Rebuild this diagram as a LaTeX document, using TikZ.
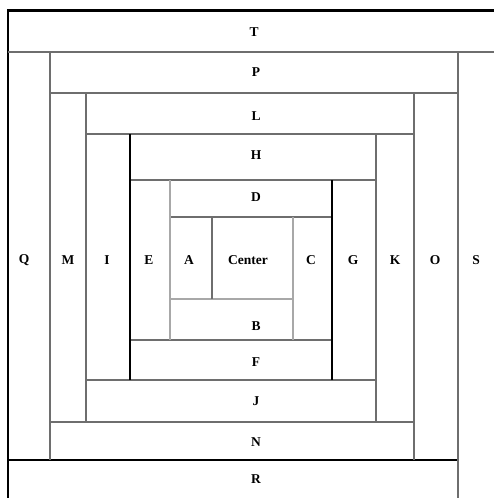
\documentclass[tikz,border=0pt]{standalone}
\usepackage{fontspec}
\setmainfont{Liberation Serif}
\definecolor{rulegray}{HTML}{6E6E6E}
\definecolor{softgray}{HTML}{A8A8A8}
\usetikzlibrary{positioning}

\begin{document}
\begin{tikzpicture}[x=1pt,y=-1pt,
    rule/.style={draw=rulegray,line width=1.3pt},
    softrule/.style={draw=softgray,line width=1.2pt},
    darkrule/.style={draw=black,line width=1.6pt},
    block/.style={font=\fontsize{13.5}{15}\selectfont\bfseries,inner sep=0pt}]
  \useasboundingbox (0,0) rectangle (494,498);
  % outer frame, only top and left
  \draw[black,line width=2.8pt] (494,10.5) -- (8,10.5) -- (8,498);
  % horizontal strips
  \draw[rule] (8,52) -- (494,52);
  \draw[rule] (50,93) -- (458,93);
  \draw[rule] (86,134) -- (414,134);
  \draw[rule] (130,180) -- (376,180);
  \draw[rule] (170,217) -- (332,217);
  \draw[softrule] (170,299) -- (293,299);
  \draw[rule] (130,340) -- (332,340);
  \draw[rule] (86,380) -- (376,380);
  \draw[rule] (50,422) -- (414,422);
  \draw[darkrule] (8,460) -- (458,460);
  % vertical strips
  \draw[rule] (50,52) -- (50,460);
  \draw[rule] (86,93) -- (86,422);
  \draw[darkrule,line width=1.1pt] (130,134) -- (130,380);
  \draw[softrule] (170,180) -- (170,340);
  \draw[rule] (212,217) -- (212,299);
  \draw[softrule] (293,217) -- (293,340);
  \draw[darkrule] (332,180) -- (332,380);
  \draw[rule] (376,134) -- (376,422);
  \draw[rule] (414,93) -- (414,460);
  \draw[rule] (458,52) -- (458,498);
  % row labels
  \node[block] (t) at (254,32) {T};
  \node[block] (p) at (256,72) {P};
  \node[block] (l) at (256,116) {L};
  \node[block] (h) at (256,155) {H};
  \node[block] (d) at (256,197) {D};
  \node[block] (b) at (256,326) {B};
  \node[block] (f) at (256,362) {F};
  \node[block] (j) at (256,401) {J};
  \node[block] (n) at (256,442) {N};
  \node[block] (r) at (256,479) {R};
  % column labels
  \node[block] (q) at (24,260) {Q};
  \node[block] (m) at (68,260) {M};
  \node[block] (i) at (107,260) {I};
  \node[block] (e) at (149,260) {E};
  \node[block] (a) at (189,260) {A};
  \node[block] (center) at (248,260) {Center};
  \node[block] (c) at (311,260) {C};
  \node[block] (g) at (353,260) {G};
  \node[block] (k) at (395,260) {K};
  \node[block] (o) at (435,260) {O};
  \node[block] (s) at (476,260) {S};
\end{tikzpicture}
\end{document}
